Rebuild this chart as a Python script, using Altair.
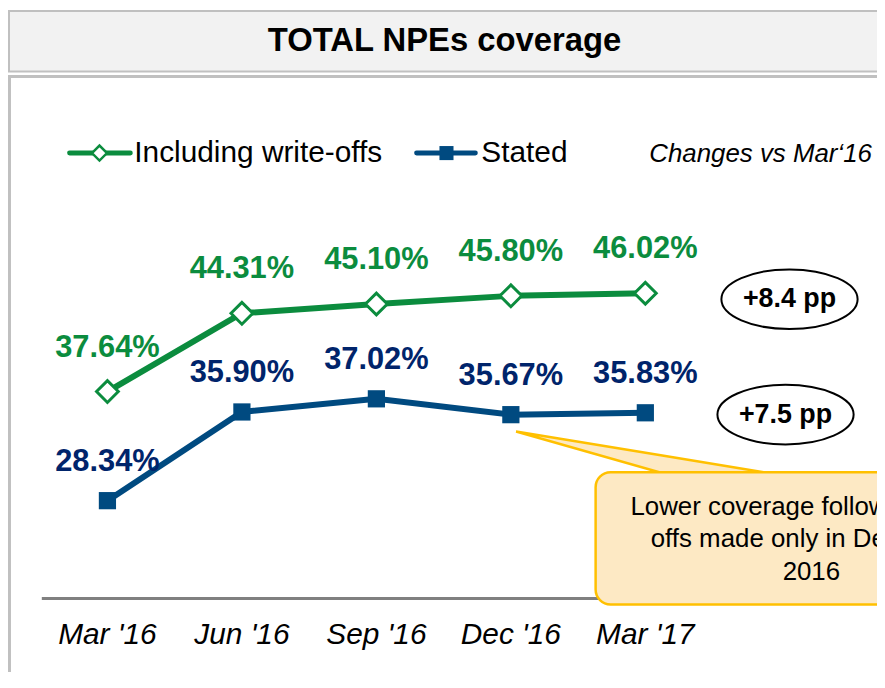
import altair as alt
import pandas as pd

# ---- data ----
periods = ["Mar '16", "Jun '16", "Sep '16", "Dec '16", "Mar '17"]
incl_writeoffs = [37.64, 44.31, 45.10, 45.80, 46.02]
stated = [28.34, 35.90, 37.02, 35.67, 35.83]
series_names = ["Including write-offs", "Stated"]
changes = ["+8.4 pp", "+7.5 pp"]
title_text = "TOTAL NPEs coverage"
changes_caption = "Changes vs Mar\u201816"
callout_lines = ["Lower coverage following write-", "offs made only in December", "2016"]

GREEN = "#0B8C3E"
BLUE = "#004A80"
NAVY = "#00246B"
FONT = "Liberation Sans"

rows = []
for name, vals in zip(series_names, [incl_writeoffs, stated]):
    for p, v in zip(periods, vals):
        rows.append({"period": p, "series": name, "value": v, "label": f"{v:.2f}%"})
df = pd.DataFrame(rows)

W, H = 874, 664

xs = alt.X("period:N", sort=periods,
           scale=alt.Scale(type="point", domain=periods, range=[100, 641], padding=0),
           axis=None)
ys = alt.Y("value:Q", scale=alt.Scale(domain=[20, 50], range=[592, 238], zero=False),
           axis=None)

base = alt.Chart(df)
green = base.transform_filter(alt.datum.series == series_names[0])
blue = base.transform_filter(alt.datum.series == series_names[1])

one = pd.DataFrame({"k": [0]})
deco = alt.Chart(one)

# frames
title_box = deco.mark_rect(fill="#F2F2F2", stroke="#C0C0C0", strokeWidth=2).encode(
    x=alt.value(1), x2=alt.value(W + 20), y=alt.value(1), y2=alt.value(62))
chart_box = deco.mark_rect(fill="white", stroke="#C0C0C0", strokeWidth=3).encode(
    x=alt.value(1.5), x2=alt.value(W + 20), y=alt.value(67), y2=alt.value(H + 30))
title = deco.mark_text(font=FONT, fontSize=33, fontWeight="bold", color="black",
                       align="center", baseline="middle").encode(
    x=alt.value(439), y=alt.value(31), text=alt.value(title_text))

# legend
leg_g_line = deco.mark_rule(color=GREEN, strokeWidth=5, strokeCap="round").encode(
    x=alt.value(62), x2=alt.value(123), y=alt.value(144))
leg_g_pt = deco.mark_point(shape="diamond", size=230, filled=True, fill="white",
                           stroke=GREEN, strokeWidth=2.5, opacity=1).encode(
    x=alt.value(92), y=alt.value(144))
leg_g_txt = deco.mark_text(font=FONT, fontSize=30, color="black", align="left",
                           baseline="middle").encode(
    x=alt.value(127), y=alt.value(144), text=alt.value(series_names[0]))
leg_b_line = deco.mark_rule(color=BLUE, strokeWidth=5, strokeCap="round").encode(
    x=alt.value(411), x2=alt.value(470), y=alt.value(144))
leg_b_pt = deco.mark_point(shape="square", size=200, filled=True, color=BLUE, opacity=1).encode(
    x=alt.value(441), y=alt.value(144))
leg_b_txt = deco.mark_text(font=FONT, fontSize=30, color="black", align="left",
                           baseline="middle").encode(
    x=alt.value(476), y=alt.value(144), text=alt.value(series_names[1]))
caption = deco.mark_text(font=FONT, fontSize=26, fontStyle="italic", color="black",
                         align="left", baseline="middle").encode(
    x=alt.value(645), y=alt.value(145), text=alt.value(changes_caption))

# baseline and x labels
baseline = deco.mark_rule(color="#808080", strokeWidth=3).encode(
    x=alt.value(34), x2=alt.value(620), y=alt.value(592))
xlabels = alt.Chart(pd.DataFrame({"period": periods})).mark_text(
    font=FONT, fontSize=30, fontStyle="italic", color="black",
    align="center", baseline="middle").encode(
    x=xs, y=alt.value(629), text="period:N")

# series
g_line = green.mark_line(color=GREEN, strokeWidth=6).encode(x=xs, y=ys)
g_pts = green.mark_point(shape="diamond", size=480, filled=True, fill="white",
                         stroke=GREEN, strokeWidth=3, opacity=1).encode(x=xs, y=ys)
g_lbl = green.mark_text(font=FONT, fontSize=31, fontWeight="bold", color=GREEN,
                        baseline="middle", dy=-44).encode(x=xs, y=ys, text="label:N")
b_line = blue.mark_line(color=BLUE, strokeWidth=6).encode(x=xs, y=ys)
b_pts = blue.mark_point(shape="square", size=300, filled=True, color=BLUE,
                        opacity=1).encode(x=xs, y=ys)
b_lbl = blue.mark_text(font=FONT, fontSize=31, fontWeight="bold", color=NAVY,
                       baseline="middle", dy=-39).encode(x=xs, y=ys, text="label:N")

# change ellipses
ell_path = ("M-1,0 C-1,-0.2419 -0.5523,-0.438 0,-0.438 C0.5523,-0.438 1,-0.2419 1,0 "
            "C1,0.2419 0.5523,0.438 0,0.438 C-0.5523,0.438 -1,0.2419 -1,0 Z")
ell_df = pd.DataFrame({"change": changes, "cx": [786, 782], "cy": [291, 407]})
ellipses = alt.Chart(ell_df).mark_point(shape=ell_path, size=137 ** 2, filled=True,
                                        fill="white", stroke="black", strokeWidth=2,
                                        opacity=1).encode(
    x=alt.X("cx:Q", scale=None), y=alt.Y("cy:Q", scale=None))
ell_txt = alt.Chart(ell_df).mark_text(font=FONT, fontSize=27, fontWeight="bold",
                                      color="black", baseline="middle").encode(
    x=alt.X("cx:Q", scale=None), y=alt.Y("cy:Q", scale=None), text="change:N")

# callout
ptr_df = pd.DataFrame({"px": [511, 655, 760], "py": [424, 447.7, 465], "py2": [424, 465, 465]})
pointer = alt.Chart(ptr_df).mark_area(fill="#FDE9C4", stroke="#FFC000", strokeWidth=2.5,
                                      opacity=1, orient="vertical").encode(
    x=alt.X("px:Q", scale=None), y=alt.Y("py:Q", scale=None), y2="py2:Q")
callout_box = deco.mark_rect(fill="#FDE9C4", stroke="#FFC000", strokeWidth=2.5,
                             cornerRadius=15).encode(
    x=alt.value(591), x2=alt.value(1000), y=alt.value(465), y2=alt.value(598))
callout_txt = deco.mark_text(font=FONT, fontSize=26, color="black", align="center",
                             baseline="middle", lineHeight=32.5).encode(
    x=alt.value(808), y=alt.value(500), text=alt.value(callout_lines))

chart = alt.layer(
    chart_box, title_box, title,
    leg_g_line, leg_g_pt, leg_g_txt, leg_b_line, leg_b_pt, leg_b_txt, caption,
    baseline, xlabels,
    pointer, callout_box, callout_txt,
    ellipses, ell_txt,
    g_line, b_line, g_pts, b_pts, g_lbl, b_lbl,
).properties(
    width=W, height=H, padding=0, autosize=alt.AutoSizeParams(type="none")
).configure_view(stroke=None)

chart.save("out.html", embed_options={"renderer": "svg", "actions": False})
